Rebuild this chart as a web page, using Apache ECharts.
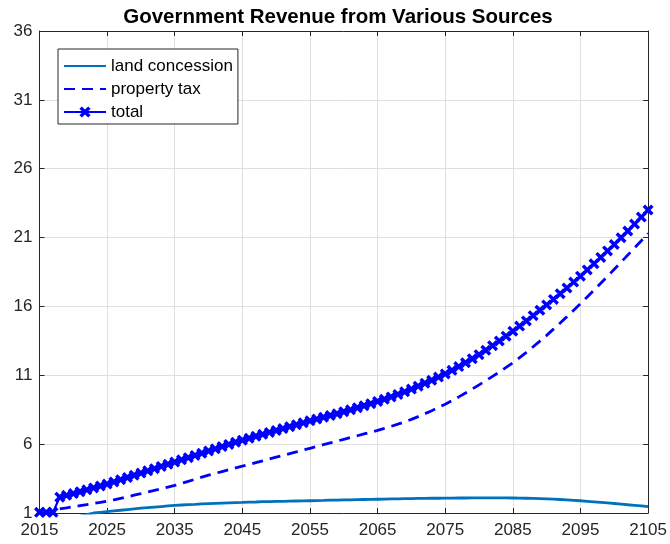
<!DOCTYPE html>
<html>
<head>
<meta charset="utf-8">
<script src="https://cdn.jsdelivr.net/npm/echarts@6/dist/echarts.min.js"></script>
<style>
  html, body { margin: 0; padding: 0; background: #ffffff; }
  #chart { width: 670px; height: 544px; }
</style>
</head>
<body>
<div id="chart"></div>
<script>
// Annual revenue, 2015–2105 (one value per year)
const firstYear = 2015;

const landConcession = [
  0.45, 0.50, 0.55, 0.60, 0.65, 0.70, 0.78, 0.88, 1.00, 1.05,
  1.10, 1.15, 1.20, 1.25, 1.30, 1.35, 1.39, 1.43, 1.47, 1.51,
  1.55, 1.58, 1.61, 1.63, 1.66, 1.68, 1.70, 1.72, 1.74, 1.76,
  1.77, 1.79, 1.80, 1.82, 1.83, 1.84, 1.85, 1.86, 1.87, 1.88,
  1.89, 1.90, 1.91, 1.93, 1.94, 1.95, 1.96, 1.97, 1.98, 1.99,
  2.00, 2.01, 2.02, 2.03, 2.04, 2.05, 2.06, 2.06, 2.07, 2.07,
  2.08, 2.08, 2.09, 2.09, 2.10, 2.10, 2.10, 2.10, 2.10, 2.10,
  2.09, 2.08, 2.07, 2.06, 2.05, 2.03, 2.01, 1.98, 1.95, 1.92,
  1.89, 1.85, 1.81, 1.77, 1.73, 1.69, 1.65, 1.60, 1.56, 1.51,
  1.46
];

// property tax is collected from 2018 onwards
const propertyTax = [
  null, null, null, 1.30, 1.37, 1.45, 1.53, 1.61, 1.69, 1.77,
  1.86, 1.96, 2.07, 2.18, 2.29, 2.40, 2.52, 2.64, 2.76, 2.88,
  3.00, 3.15, 3.30, 3.45, 3.60, 3.75, 3.88, 4.01, 4.14, 4.27,
  4.40, 4.53, 4.66, 4.79, 4.92, 5.05, 5.18, 5.31, 5.44, 5.57,
  5.70, 5.83, 5.96, 6.09, 6.22, 6.35, 6.48, 6.61, 6.74, 6.87,
  7.00, 7.14, 7.29, 7.45, 7.62, 7.80, 8.00, 8.21, 8.43, 8.66,
  8.90, 9.16, 9.43, 9.71, 10.00, 10.30, 10.61, 10.92, 11.24, 11.57,
  11.90, 12.28, 12.67, 13.07, 13.48, 13.90, 14.35, 14.80, 15.26, 15.73,
  16.20, 16.69, 17.18, 17.68, 18.19, 18.70, 19.21, 19.73, 20.25, 20.77,
  21.30
];

const totalRevenue = [
  1.05, 1.05, 1.05, 2.15, 2.28, 2.41, 2.54, 2.68, 2.82, 2.96,
  3.10, 3.26, 3.42, 3.58, 3.74, 3.90, 4.06, 4.22, 4.38, 4.54,
  4.70, 4.86, 5.02, 5.18, 5.34, 5.50, 5.66, 5.82, 5.98, 6.14,
  6.29, 6.43, 6.57, 6.71, 6.85, 6.99, 7.13, 7.27, 7.41, 7.55,
  7.69, 7.82, 7.95, 8.08, 8.21, 8.35, 8.49, 8.64, 8.79, 8.94,
  9.10, 9.26, 9.43, 9.61, 9.80, 10.00, 10.21, 10.42, 10.64, 10.87,
  11.10, 11.36, 11.63, 11.91, 12.20, 12.50, 12.82, 13.15, 13.49, 13.84,
  14.20, 14.57, 14.95, 15.33, 15.72, 16.11, 16.51, 16.92, 17.34, 17.77,
  18.20, 18.65, 19.10, 19.56, 20.03, 20.50, 20.99, 21.48, 21.98, 22.49,
  23.00
];

const seriesNames = ['land concession', 'property tax', 'total'];

const years = landConcession.map((_, i) => firstYear + i);
const pairs = (vals) => vals.map((v, i) => [years[i], v == null ? '-' : v]);

const axisColor = '#262626';
const gridColor = '#dfdfdf';
const fontFamily = '"Liberation Sans", Arial, Helvetica, sans-serif';

// x-shaped marker as a filled outline
const crossMark = 'path://M0,2.2 L2.2,0 L5,2.8 L7.8,0 L10,2.2 L7.2,5 L10,7.8 L7.8,10 L5,7.2 L2.2,10 L0,7.8 L2.8,5 Z';

const xBase = {
  type: 'value', min: 2015, max: 2105, interval: 10,
  axisLine: { show: true, onZero: false, lineStyle: { color: axisColor, width: 1 } },
  axisTick: { show: true, inside: true, length: 5, lineStyle: { color: axisColor } }
};
const yBase = {
  type: 'value', min: 1, max: 36, interval: 5,
  axisLine: { show: true, onZero: false, lineStyle: { color: axisColor, width: 1 } },
  axisTick: { show: true, inside: true, length: 5, lineStyle: { color: axisColor } }
};

const chart = echarts.init(document.getElementById('chart'), null, { renderer: 'canvas' });

chart.setOption({
  animation: false,
  backgroundColor: '#ffffff',
  title: {
    text: 'Government Revenue from Various Sources',
    left: 333, textAlign: 'center', top: 2,
    textStyle: { fontFamily, fontSize: 20.5, fontWeight: 'bold', color: '#000000' }
  },
  grid: { left: 39.5, right: 20.5, top: 31, bottom: 31, containLabel: false },
  legend: {
    orient: 'vertical', left: 58, top: 49,
    padding: [7, 5, 2, 5], itemGap: 3,
    itemWidth: 42, itemHeight: 14,
    backgroundColor: '#ffffff', borderColor: axisColor, borderWidth: 1,
    textStyle: { fontFamily, fontSize: 17, color: '#000000', lineHeight: 20 },
    data: [
      { name: seriesNames[0], itemStyle: { opacity: 0 } },
      { name: seriesNames[1], itemStyle: { opacity: 0 } },
      { name: seriesNames[2] }
    ]
  },
  xAxis: [
    Object.assign({}, xBase, {
      position: 'bottom',
      axisLabel: { fontFamily, fontSize: 17, color: axisColor, margin: 9, formatter: (v) => String(v) },
      splitLine: { show: true, lineStyle: { color: gridColor, width: 1 } }
    }),
    Object.assign({}, xBase, {
      position: 'top', axisLabel: { show: false }, splitLine: { show: false }
    })
  ],
  yAxis: [
    Object.assign({}, yBase, {
      position: 'left',
      axisLabel: { fontFamily, fontSize: 17, color: axisColor, margin: 7 },
      splitLine: { show: true, lineStyle: { color: gridColor, width: 1 } }
    }),
    Object.assign({}, yBase, {
      position: 'right', axisLabel: { show: false }, splitLine: { show: false }
    })
  ],
  series: [
    {
      name: seriesNames[0], type: 'line', data: pairs(landConcession),
      showSymbol: false, symbol: 'none', clip: true,
      lineStyle: { color: '#0072BD', width: 2.8 },
      itemStyle: { color: '#0072BD' }
    },
    {
      name: seriesNames[1], type: 'line', data: pairs(propertyTax),
      showSymbol: false, symbol: 'none', clip: true, connectNulls: false,
      lineStyle: { color: '#0000FF', width: 2.8, type: [11, 7] },
      itemStyle: { color: '#0000FF' }
    },
    {
      name: seriesNames[2], type: 'line', data: pairs(totalRevenue),
      symbol: crossMark, symbolSize: 11, showSymbol: true, clip: true,
      lineStyle: { color: '#0000FF', width: 2.2 },
      itemStyle: { color: '#0000FF' }
    }
  ]
});
</script>
</body>
</html>
